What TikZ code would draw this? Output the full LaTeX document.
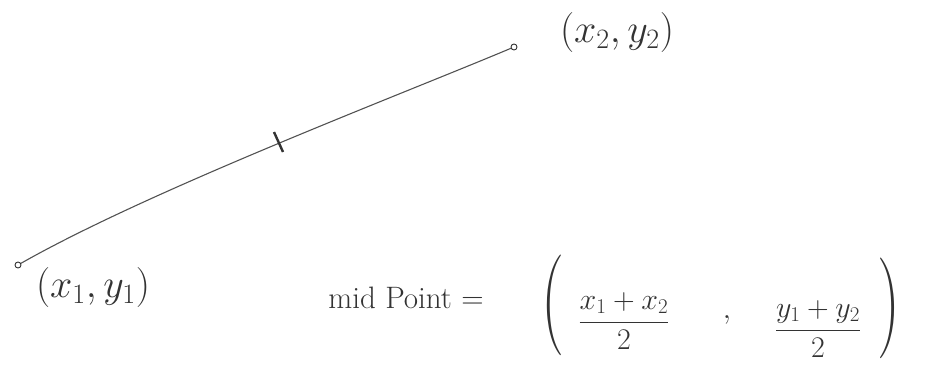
\RequirePackage{fix-cm}
\documentclass[tikz,border=0pt]{standalone}
\definecolor{ink}{HTML}{333333}
\tikzset{
  lbl/.style={text=ink, inner sep=0pt, font=\fontsize{40}{46}\selectfont},
  mid/.style={text=ink, inner sep=0pt, font=\fontsize{30}{36}\selectfont},
  par/.style={text=ink, inner sep=0pt, font=\fontsize{72}{72}\selectfont},
  pt/.style={circle, draw=ink, line width=0.9pt, inner sep=0pt, minimum size=6pt, fill=white},
}
\begin{document}
\begin{tikzpicture}[x=1pt,y=-1pt]
\useasboundingbox (0,0) rectangle (926,365);
\node[pt] (p1) at (18,265) {};
\node[pt] (p2) at (514,47) {};
\draw[ink!85, line width=1.1pt] (p1) .. controls (150,190) and (400,95) .. (p2);
\draw[ink, line width=2.4pt] (274,132) -- (283,152);
\node[lbl] (l1) at (93,287) {$(x_1,y_1)$};
\node[lbl] (l2) at (617,32) {$(x_2,y_2)$};
\node[mid, font=\fontsize{31}{36}\selectfont] (mp) at (406,298) {mid Point $=$};
\node[par] (lp) at (553,305) {\scalebox{0.9}[1.4]{(}};
\node[mid] (f1) at (624,321) {$\displaystyle\frac{x_1+x_2}{2}$};
\node[mid] (cm) at (727,320) {$,$};
\node[mid] (f2) at (818,329) {$\displaystyle\frac{y_1+y_2}{2}$};
\node[par] (rp) at (889,308) {\scalebox{0.9}[1.4]{)}};
\end{tikzpicture}
\end{document}
